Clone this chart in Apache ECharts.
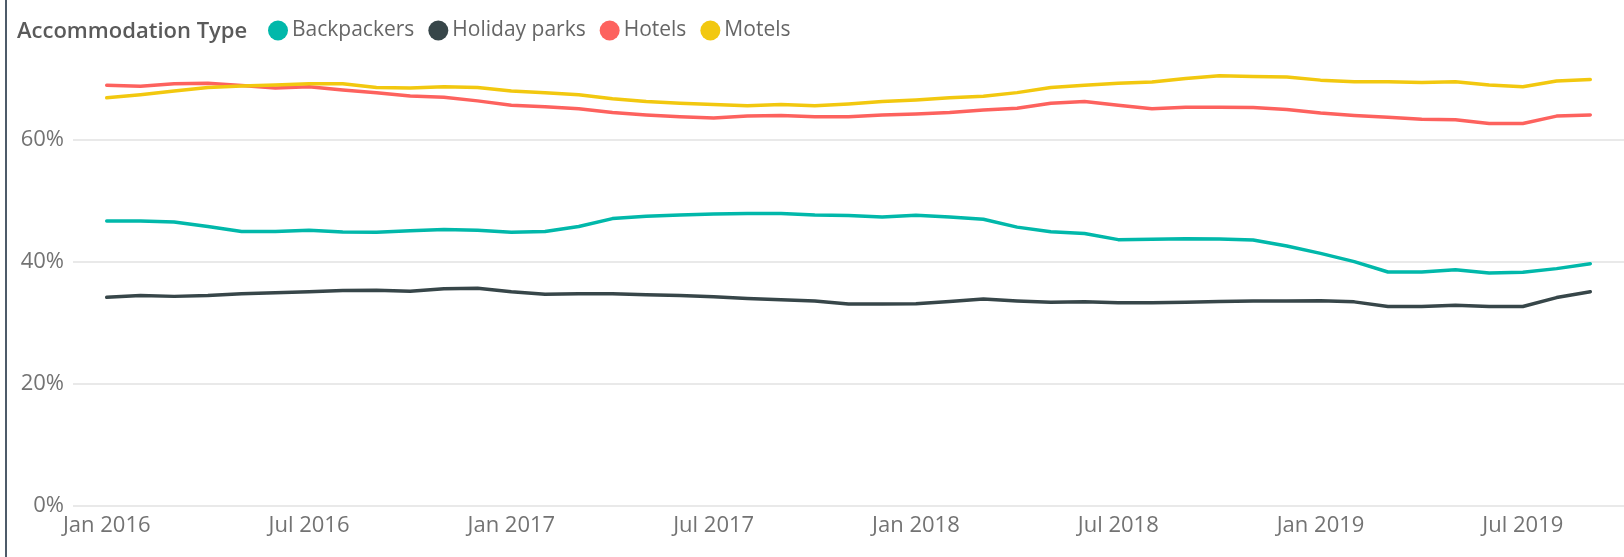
<!DOCTYPE html>
<html>
<head>
<meta charset="utf-8">
<style>
  html, body { margin: 0; padding: 0; background: #ffffff; }
  #chart { width: 1624px; height: 557px; }
</style>
<script src="https://cdn.jsdelivr.net/npm/echarts@6/dist/echarts.min.js"></script>
</head>
<body>
<div id="chart"></div>
<script>
const legendTitle = 'Accommodation Type';
const seriesNames = ['Backpackers', 'Holiday parks', 'Hotels', 'Motels'];
const months = [
  'Jan 2016','Feb 2016','Mar 2016','Apr 2016','May 2016','Jun 2016','Jul 2016','Aug 2016','Sep 2016','Oct 2016','Nov 2016','Dec 2016',
  'Jan 2017','Feb 2017','Mar 2017','Apr 2017','May 2017','Jun 2017','Jul 2017','Aug 2017','Sep 2017','Oct 2017','Nov 2017','Dec 2017',
  'Jan 2018','Feb 2018','Mar 2018','Apr 2018','May 2018','Jun 2018','Jul 2018','Aug 2018','Sep 2018','Oct 2018','Nov 2018','Dec 2018',
  'Jan 2019','Feb 2019','Mar 2019','Apr 2019','May 2019','Jun 2019','Jul 2019','Aug 2019','Sep 2019'
];
const xTickMonths = [0, 6, 12, 18, 24, 30, 36, 42];
const yTicks = [0, 20, 40, 60];

const backpackers = [46.6,46.6,46.45,45.7,44.9,44.9,45.1,44.8,44.75,45.0,45.2,45.1,44.75,44.9,45.7,
  47.0,47.4,47.6,47.75,47.85,47.85,47.6,47.5,47.25,47.55,47.25,46.9,45.6,44.85,44.55,
  43.55,43.6,43.7,43.65,43.5,42.5,41.3,39.95,38.25,38.25,38.6,38.1,38.2,38.8,39.6];
const holidayParks = [34.1,34.4,34.25,34.4,34.7,34.85,35.0,35.2,35.25,35.1,35.5,35.6,35.0,34.6,34.7,
  34.7,34.5,34.4,34.2,33.9,33.7,33.5,33.0,33.0,33.05,33.4,33.8,33.5,33.3,33.35,
  33.2,33.2,33.3,33.4,33.5,33.5,33.55,33.35,32.6,32.6,32.8,32.6,32.6,34.05,35.0];
const hotels = [68.85,68.7,69.1,69.2,68.8,68.4,68.6,68.1,67.65,67.1,66.9,66.3,65.6,65.35,65.0,
  64.4,64.0,63.7,63.5,63.8,63.9,63.7,63.7,64.0,64.15,64.4,64.8,65.1,65.9,66.2,
  65.6,65.0,65.25,65.25,65.2,64.9,64.3,63.9,63.6,63.3,63.2,62.6,62.6,63.8,64.0];
const motels = [66.8,67.3,67.9,68.5,68.75,68.9,69.1,69.1,68.5,68.4,68.6,68.5,67.9,67.65,67.3,
  66.65,66.2,65.9,65.7,65.5,65.7,65.5,65.8,66.2,66.45,66.8,67.05,67.65,68.5,68.85,
  69.2,69.4,69.95,70.4,70.3,70.2,69.7,69.45,69.45,69.3,69.45,68.9,68.6,69.55,69.8];

const colors = ['#01B8AA', '#374649', '#FD625E', '#F2C80F'];
const allSeries = [backpackers, holidayParks, hotels, motels];
const FONT = '"Open Sans", "Noto Sans", sans-serif';

const chart = echarts.init(document.getElementById('chart'), null, { renderer: 'canvas' });
chart.setOption({
  animation: false,
  backgroundColor: '#ffffff',
  color: colors,
  textStyle: { fontFamily: FONT },
  graphic: [{
    type: 'rect', left: 5, top: 0,
    shape: { width: 2, height: 557 },
    style: { fill: '#4d5b69' }
  }],
  title: {
    text: legendTitle,
    left: 12, top: 16,
    textStyle: { fontFamily: FONT, fontSize: 22, fontWeight: 600, color: '#5a5a5a' }
  },
  legend: {
    data: seriesNames,
    left: 263, top: 15,
    icon: 'circle',
    itemWidth: 20, itemHeight: 20, itemGap: 14,
    textStyle: { fontFamily: FONT, fontSize: 21, color: '#666666', padding: [0, 0, 0, -1] }
  },
  grid: { left: 73, right: 0, top: 17.3, bottom: 51.7, containLabel: false },
  xAxis: {
    type: 'value',
    min: -1, max: months.length,
    axisLine: { show: false },
    axisTick: { show: false },
    splitLine: { show: false },
    axisLabel: {
      customValues: xTickMonths,
      formatter: v => months[v] || '',
      fontFamily: FONT, fontSize: 22, color: '#737373', margin: 9
    }
  },
  yAxis: {
    type: 'value',
    min: 0, max: 80, interval: 20,
    axisLine: { show: false },
    axisTick: { show: false },
    axisLabel: {
      showMaxLabel: false,
      formatter: v => (yTicks.indexOf(v) >= 0 ? v + '%' : ''),
      fontFamily: FONT, fontSize: 22, color: '#737373', margin: 9
    },
    splitLine: {
      show: true,
      lineStyle: { color: ['#e9e9e9', '#e9e9e9', '#e9e9e9', '#e9e9e9', 'rgba(0,0,0,0)'], width: 2 }
    }
  },
  series: seriesNames.map((name, k) => ({
    name: name,
    type: 'line',
    showSymbol: false,
    symbol: 'none',
    lineStyle: { width: 3.5, color: colors[k], cap: 'round', join: 'round' },
    itemStyle: { color: colors[k] },
    data: allSeries[k].map((v, i) => [i, v])
  }))
});
</script>
</body>
</html>
